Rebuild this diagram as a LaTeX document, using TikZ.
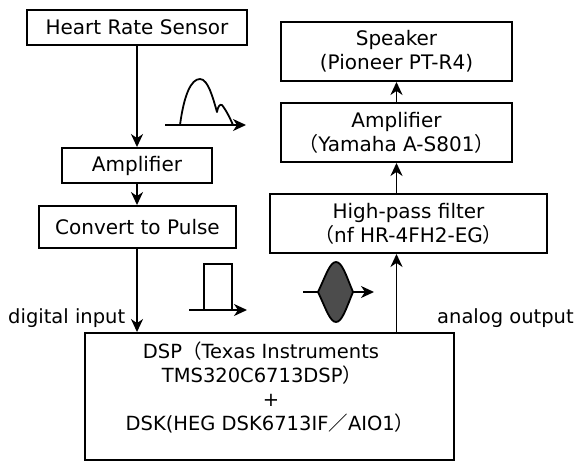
\documentclass[tikz,border=0pt]{standalone}
\usepackage{fontspec}
\setmainfont{DejaVu Sans}
\newfontfamily\jp{Noto Sans CJK JP}
\newcommand{\fo}{{\jp （}}
\newcommand{\fc}{{\jp ）}}
\newcommand{\fs}{{\jp ／}}
\usetikzlibrary{arrows.meta}
\tikzset{
  box/.style={draw, line width=1.9pt, inner sep=0pt, align=center, font=\fontsize{20}{24}\selectfont},
  conn/.style={line width=1.8pt, -{Stealth[length=13pt,width=12pt,inset=4pt]}},
  lbl/.style={font=\fontsize{19.5}{24}\selectfont, inner sep=0pt},
  glyph/.style={line width=1.8pt}
}
\begin{document}
\begin{tikzpicture}[x=1pt,y=-1pt]
\useasboundingbox (0,0) rectangle (574,461);
% left column
\node[box, minimum width=220pt, minimum height=35pt] (hrs) at (137,27.5) {Heart Rate Sensor};
\node[box, minimum width=150pt, minimum height=35pt] (amp1) at (137,165.5) {Amplifier};
\node[box, minimum width=197pt, minimum height=42pt] (conv) at (137.5,227) {Convert to Pulse};
\node[box, minimum width=369pt, minimum height=127pt] (dsp) at (269.5,396.5) {};
\node[lbl, anchor=base] (dspa) at (261,358) {DSP\fo Texas Instruments};
\node[lbl, anchor=base] (dspb) at (262,382) {TMS320C6713DSP\fc};
\node[lbl, anchor=base] (dspc) at (271,406) {+};
\node[lbl, anchor=base] (dspd) at (270,430) {DSK(HEG DSK6713IF\fs AIO1\fc};
% right column
\node[box, minimum width=231pt, minimum height=59pt] (spk) at (396.5,51.5) {Speaker\\(Pioneer PT-R4)};
\node[box, minimum width=231pt, minimum height=59pt] (amp2) at (396.5,132.5) {Amplifier\\\fo Yamaha A-S801\fc};
\node[box, minimum width=277pt, minimum height=59pt] (hpf) at (408.5,223.5) {High-pass filter\\\fo nf HR-4FH2-EG\fc};
% connectors
\draw[conn] (hrs.south) -- (amp1.north);
\draw[conn] (amp1.south) -- (amp1.south |- conv.north);
\draw[conn] (conv.south -| amp1.south) -- (amp1.south |- dsp.north);
\draw[conn] (dsp.north -| amp2.south) -- (hpf.south -| amp2.south);
\draw[conn] (hpf.north -| amp2.south) -- (amp2.south);
\draw[conn] (amp2.north) -- (spk.south);
% labels
\node[lbl, anchor=base west] (din) at (8,323) {digital input};
\node[lbl, anchor=base west] (aout) at (437,323) {analog output};
% heart wave glyph
\coordinate (hw0) at (165,125);
\coordinate (hw1) at (246,125);
\draw[conn] (hw0) -- (hw1);
\draw[glyph, line join=round] (180,125) .. controls (184,95) and (191,79) .. (200,79)
  .. controls (208,79) and (213,98) .. (217,112)
  .. controls (218,106) and (220,104) .. (222,105)
  .. controls (226,110) and (230,118) .. (233,125);
% pulse glyph
\coordinate (pl0) at (189,310);
\coordinate (pl1) at (247,310);
\draw[conn] (pl0) -- (pl1);
\draw[glyph, line join=miter] (204,310) -- (204,264) -- (232,264) -- (232,310);
% modulated glyph
\coordinate (ml0) at (303,292);
\coordinate (ml1) at (374,292);
\draw[conn] (ml0) -- (ml1);
\draw[glyph, fill=black!70] (318,292) .. controls (326,275) and (330,262) .. (336,262)
  .. controls (342,262) and (346,275) .. (353,292)
  .. controls (346,309) and (342,322) .. (336,322)
  .. controls (330,322) and (326,309) .. (318,292) -- cycle;
\end{tikzpicture}
\end{document}
